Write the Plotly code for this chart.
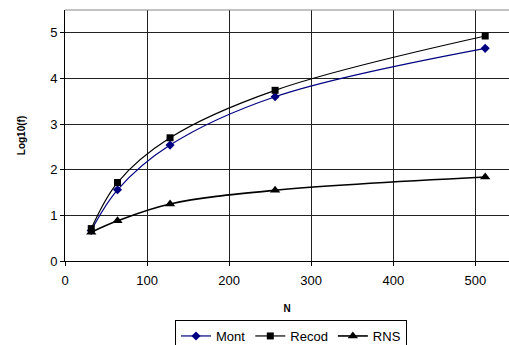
import plotly.graph_objects as go

N = [32, 64, 128, 256, 512]
mont = [0.67, 1.56, 2.54, 3.60, 4.66]
recod = [0.71, 1.72, 2.70, 3.74, 4.93]
rns = [0.63, 0.88, 1.25, 1.55, 1.84]

fig = go.Figure()
fig.add_trace(go.Scatter(x=N, y=mont, name="Mont", mode="lines+markers",
                         line=dict(color="#000080", width=1.2, shape="spline", smoothing=1.0),
                         marker=dict(symbol="diamond", size=7, color="#000080")))
fig.add_trace(go.Scatter(x=N, y=recod, name="Recod", mode="lines+markers",
                         line=dict(color="black", width=1.2, shape="spline", smoothing=1.0),
                         marker=dict(symbol="square", size=7, color="black")))
fig.add_trace(go.Scatter(x=N, y=rns, name="RNS", mode="lines+markers",
                         line=dict(color="black", width=1.6, shape="spline", smoothing=1.0),
                         marker=dict(symbol="triangle-up", size=9, color="black")))

fig.update_layout(
    width=509, height=345,
    margin=dict(l=65, r=0, t=10, b=84, autoexpand=False),
    paper_bgcolor="white", plot_bgcolor="white",
    font=dict(family="Liberation Sans, Arial, sans-serif", size=13, color="black"),
    showlegend=True,
    legend=dict(orientation="h", x=291/509, xref="container", xanchor="center",
                y=1 - 320/345, yref="container", yanchor="top",
                bordercolor="black", borderwidth=1, font=dict(size=13),
                itemwidth=30, tracegroupgap=0),
    xaxis=dict(range=[0, 541], tickvals=[0, 100, 200, 300, 400, 500],
               showgrid=True, gridcolor="#222", gridwidth=1,
               showline=True, linecolor="black", linewidth=1,
               ticks="outside", ticklen=4, tickcolor="black",
               ticklabelstandoff=3,
               zeroline=False,
               title=dict(text="<b>N</b>", font=dict(size=10), standoff=18)),
    yaxis=dict(range=[0, 5.5], tickvals=[0, 1, 2, 3, 4, 5],
               showgrid=True, gridcolor="#222", gridwidth=1,
               showline=True, linecolor="black", linewidth=1,
               ticks="outside", ticklen=4, tickcolor="black",
               zeroline=False,
               title=dict(text="<b>Log10(f)</b>", font=dict(size=10), standoff=22)),
)
fig.add_shape(type="line", xref="paper", yref="paper", x0=0, x1=1, y0=1, y1=1,
              line=dict(color="#888", width=1))

fig.write_html("out.html", config={"displayModeBar": False},
               post_script="document.body.style.margin='0';document.body.style.overflow='hidden';")
